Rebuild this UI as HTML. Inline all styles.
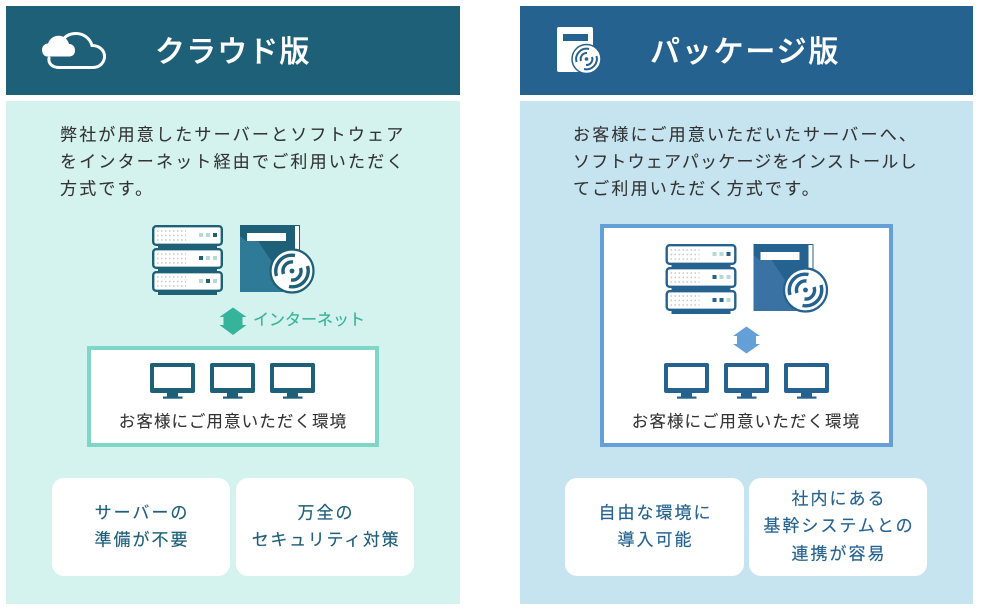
<!DOCTYPE html>
<html lang="ja">
<head>
<meta charset="utf-8">
<title>クラウド版とパッケージ版</title>
<style>
html,body{margin:0;padding:0;background:#fff}
#p{position:relative;width:990px;height:612px;overflow:hidden;background:#fff;font-family:"Liberation Sans","Noto Sans CJK JP",sans-serif}
#p svg.bg{position:absolute;left:0;top:0}
.t{position:absolute;white-space:nowrap;line-height:1;transform:translateY(-50%)}
.h{font-size:30px;letter-spacing:1.1px;color:#fff;font-weight:500;-webkit-text-stroke:.35px #fff}
.b{font-size:17px;letter-spacing:2.2px;color:#333;-webkit-text-stroke:.1px #333}
.e{font-size:16.500px;letter-spacing:1.1px;color:#333;width:292px;text-align:center;-webkit-text-stroke:.1px #333}
.n{font-size:16px;letter-spacing:0;color:#3bb39b;-webkit-text-stroke:.2px #3bb39b}
.c{font-size:17px;letter-spacing:2px;text-align:center;-webkit-text-stroke:.15px currentColor;padding-left:2px;box-sizing:border-box}
.g{color:#1f6079}
.u{color:#25628f}
</style>
</head>
<body>
<div id="p">
<svg class="bg" width="990" height="612" viewBox="0 0 990 612" xmlns="http://www.w3.org/2000/svg">
<defs>
<g id="unit">
  <rect x="1.200" y="1.200" width="68.600" height="18.600" rx="3" fill="#fff" stroke="var(--c)" stroke-width="2.400"/>
  <g stroke="#c8c8c8" stroke-width="1.500" stroke-dasharray="1.500 2.500" fill="none">
    <path d="M5 6H34"/><path d="M5 10.500H34"/><path d="M5 15H34"/>
  </g>
  <g fill="#b5d8d8">
    <rect x="47" y="8" width="4" height="4"/><rect x="54" y="8" width="4" height="4"/><rect x="61" y="8" width="4" height="4"/>
  </g>
</g>
<g id="disc">
  <circle cx="0" cy="0" r="21.500" fill="#fff" stroke="var(--c)" stroke-width="2.200"/>
  <circle cx="0" cy="0" r="2.400" fill="var(--c)"/>
  <g fill="none" stroke="var(--c)" stroke-width="3.400">
    <path d="M-8.500 3A9 9 0 0 1 1-9"/><path d="M-15.500 5A16 16 0 0 1 3-15.500"/>
    <path d="M8.500-3A9 9 0 0 1-1 9"/><path d="M15.500-5A16 16 0 0 1-3 15.500"/>
  </g>
</g>
<g id="mon">
  <path d="M2 0H43A2 2 0 0 1 45 2V28A2 2 0 0 1 43 30H2A2 2 0 0 1 0 28V2A2 2 0 0 1 2 0ZM4 4V25H41V4Z" fill="var(--c)" fill-rule="evenodd"/>
  <rect x="4" y="4" width="37" height="21" fill="#fff"/>
  <rect x="17" y="30" width="11" height="4" fill="var(--c)"/>
  <rect x="13" y="33.500" width="19.500" height="2.200" fill="var(--c)"/>
</g>
<g id="stack">
  <rect x="158" y="290" width="59" height="5" fill="var(--c)"/>
  <rect x="158" y="243" width="59" height="7" fill="var(--c)"/>
  <rect x="158" y="266" width="59" height="7" fill="var(--c)"/>
  <use href="#unit" x="152" y="225"/>
  <use href="#unit" x="152" y="248"/>
  <use href="#unit" x="152" y="271"/>
  <rect x="213" y="233" width="4" height="4" fill="var(--c)"/>
  <rect x="199" y="256" width="4" height="4" fill="var(--c)"/>
  <rect x="206" y="279" width="4" height="4" fill="var(--c)"/>
  <rect x="240" y="225" width="60" height="67" fill="var(--c)"/>
  <path d="M240 236L246 241H258L292 292H240Z" fill="var(--l)"/>
  <rect x="295" y="226" width="4" height="30" fill="#fff"/>
  <rect x="247" y="233" width="39" height="8" fill="#fff"/>
  <use href="#disc" x="292" y="271"/>
</g>
</defs>

<!-- left panel -->
<rect x="6" y="6" width="454" height="89" fill="#1f6079"/>
<rect x="6" y="101" width="454" height="503" fill="#d5f3ee"/>
<!-- right panel -->
<rect x="520" y="6" width="453" height="89" fill="#25628f"/>
<rect x="520" y="101" width="453" height="503" fill="#c6e4f0"/>

<!-- cloud icon -->
<path d="M49 58C48 64 53 67.500 59 67.500H93C100 67.500 104.500 62 104.500 56.500C104.500 50 99 45.500 92 45.500C90 38 83 33.500 76 33.500C70 33.500 65 36 62 41" fill="none" stroke="#fff" stroke-width="3" stroke-linecap="round"/>
<path d="M47 56.500C44 56.500 42 53 42 50C42 46 45 43.500 48 43.500C50 38 55 35 61 36C65 37 68 40 69 44C73 44 75 47 75 50.500C75 54 73 56.500 69 56.500Z" fill="#fff"/>

<!-- package icon -->
<rect x="557" y="27" width="36" height="45" rx="2" fill="#fff"/>
<rect x="563" y="34" width="25" height="7" fill="#25628f"/>
<circle cx="586.500" cy="59" r="14.500" fill="#fff" stroke="#25628f" stroke-width="1.500"/>
<circle cx="586.500" cy="59" r="1.800" fill="#25628f"/>
<g fill="none" stroke="#25628f" stroke-width="2">
  <path d="M581 61A6 6 0 0 1 587 53"/><path d="M576.500 62A10.500 10.500 0 0 1 589 49"/>
  <path d="M592 57A6 6 0 0 1 586 65"/><path d="M596.500 56A10.500 10.500 0 0 1 584 69"/>
</g>

<!-- left diagram -->
<use href="#stack" style="--c:#1f6079;--l:#2f7a96"/>
<path d="M233 307.500L246.500 317H242.500V325H246.500L233 335L219.500 325H223.500V317H219.500Z" fill="#35b39b"/>
<rect x="89" y="348" width="288" height="97" fill="#fff" stroke="#7fd6c7" stroke-width="4"/>
<g style="--c:#1f6079">
  <use href="#mon" x="150" y="363"/><use href="#mon" x="210" y="363"/><use href="#mon" x="270" y="363"/>
</g>

<!-- right diagram -->
<rect x="602" y="226" width="289" height="219" fill="#fff" stroke="#649fd8" stroke-width="4"/>
<g transform="translate(513.500 19)"><use href="#stack" style="--c:#25628f;--l:#3a73a3"/>
<rect x="199" y="279" width="4" height="4" fill="#25628f"/></g>
<path d="M746.500 326.500L760 336H756V344H760L746.500 353.500L733 344H737V336H733Z" fill="#649fd8"/>
<g style="--c:#25628f">
  <use href="#mon" x="664" y="363"/><use href="#mon" x="724" y="363"/><use href="#mon" x="784" y="363"/>
</g>

<!-- cards -->
<rect x="52" y="478" width="178" height="98" rx="12" fill="#fff"/>
<rect x="236" y="478" width="178" height="98" rx="12" fill="#fff"/>
<rect x="565" y="478" width="179" height="98" rx="12" fill="#fff"/>
<rect x="749" y="478" width="178" height="98" rx="12" fill="#fff"/>
</svg>

<span class="t h" style="left:155px;top:53px">クラウド版</span>
<span class="t h" style="left:650px;top:53px;letter-spacing:1.800px">パッケージ版</span>

<span class="t b" style="left:60px;top:134.500px">弊社が用意したサーバーとソフトウェア</span>
<span class="t b" style="left:60px;top:162px">をインターネット経由でご利用いただく</span>
<span class="t b" style="left:60px;top:189px">方式です。</span>

<span class="t b" style="left:573px;top:134.500px">お客様にご用意いただいたサーバーへ、</span>
<span class="t b" style="left:573px;top:162px;letter-spacing:1.200px">ソフトウェアパッケージをインストールし</span>
<span class="t b" style="left:573px;top:189px">てご利用いただく方式です。</span>

<span class="t n" style="left:253px;top:321px">インターネット</span>

<span class="t e" style="left:87px;top:422px">お客様にご用意いただく環境</span>
<span class="t e" style="left:600px;top:422px">お客様にご用意いただく環境</span>

<span class="t c g" style="left:52px;width:178px;top:513px">サーバーの</span>
<span class="t c g" style="left:52px;width:178px;top:540px">準備が不要</span>
<span class="t c g" style="left:236px;width:178px;top:513px">万全の</span>
<span class="t c g" style="left:236px;width:178px;top:540px;letter-spacing:1.700px">セキュリティ対策</span>

<span class="t c u" style="left:565px;width:179px;top:513px">自由な環境に</span>
<span class="t c u" style="left:565px;width:179px;top:540px">導入可能</span>
<span class="t c u" style="left:749px;width:178px;top:499px">社内にある</span>
<span class="t c u" style="left:749px;width:178px;top:526px">基幹システムとの</span>
<span class="t c u" style="left:749px;width:178px;top:554px">連携が容易</span>
</div>
</body>
</html>
